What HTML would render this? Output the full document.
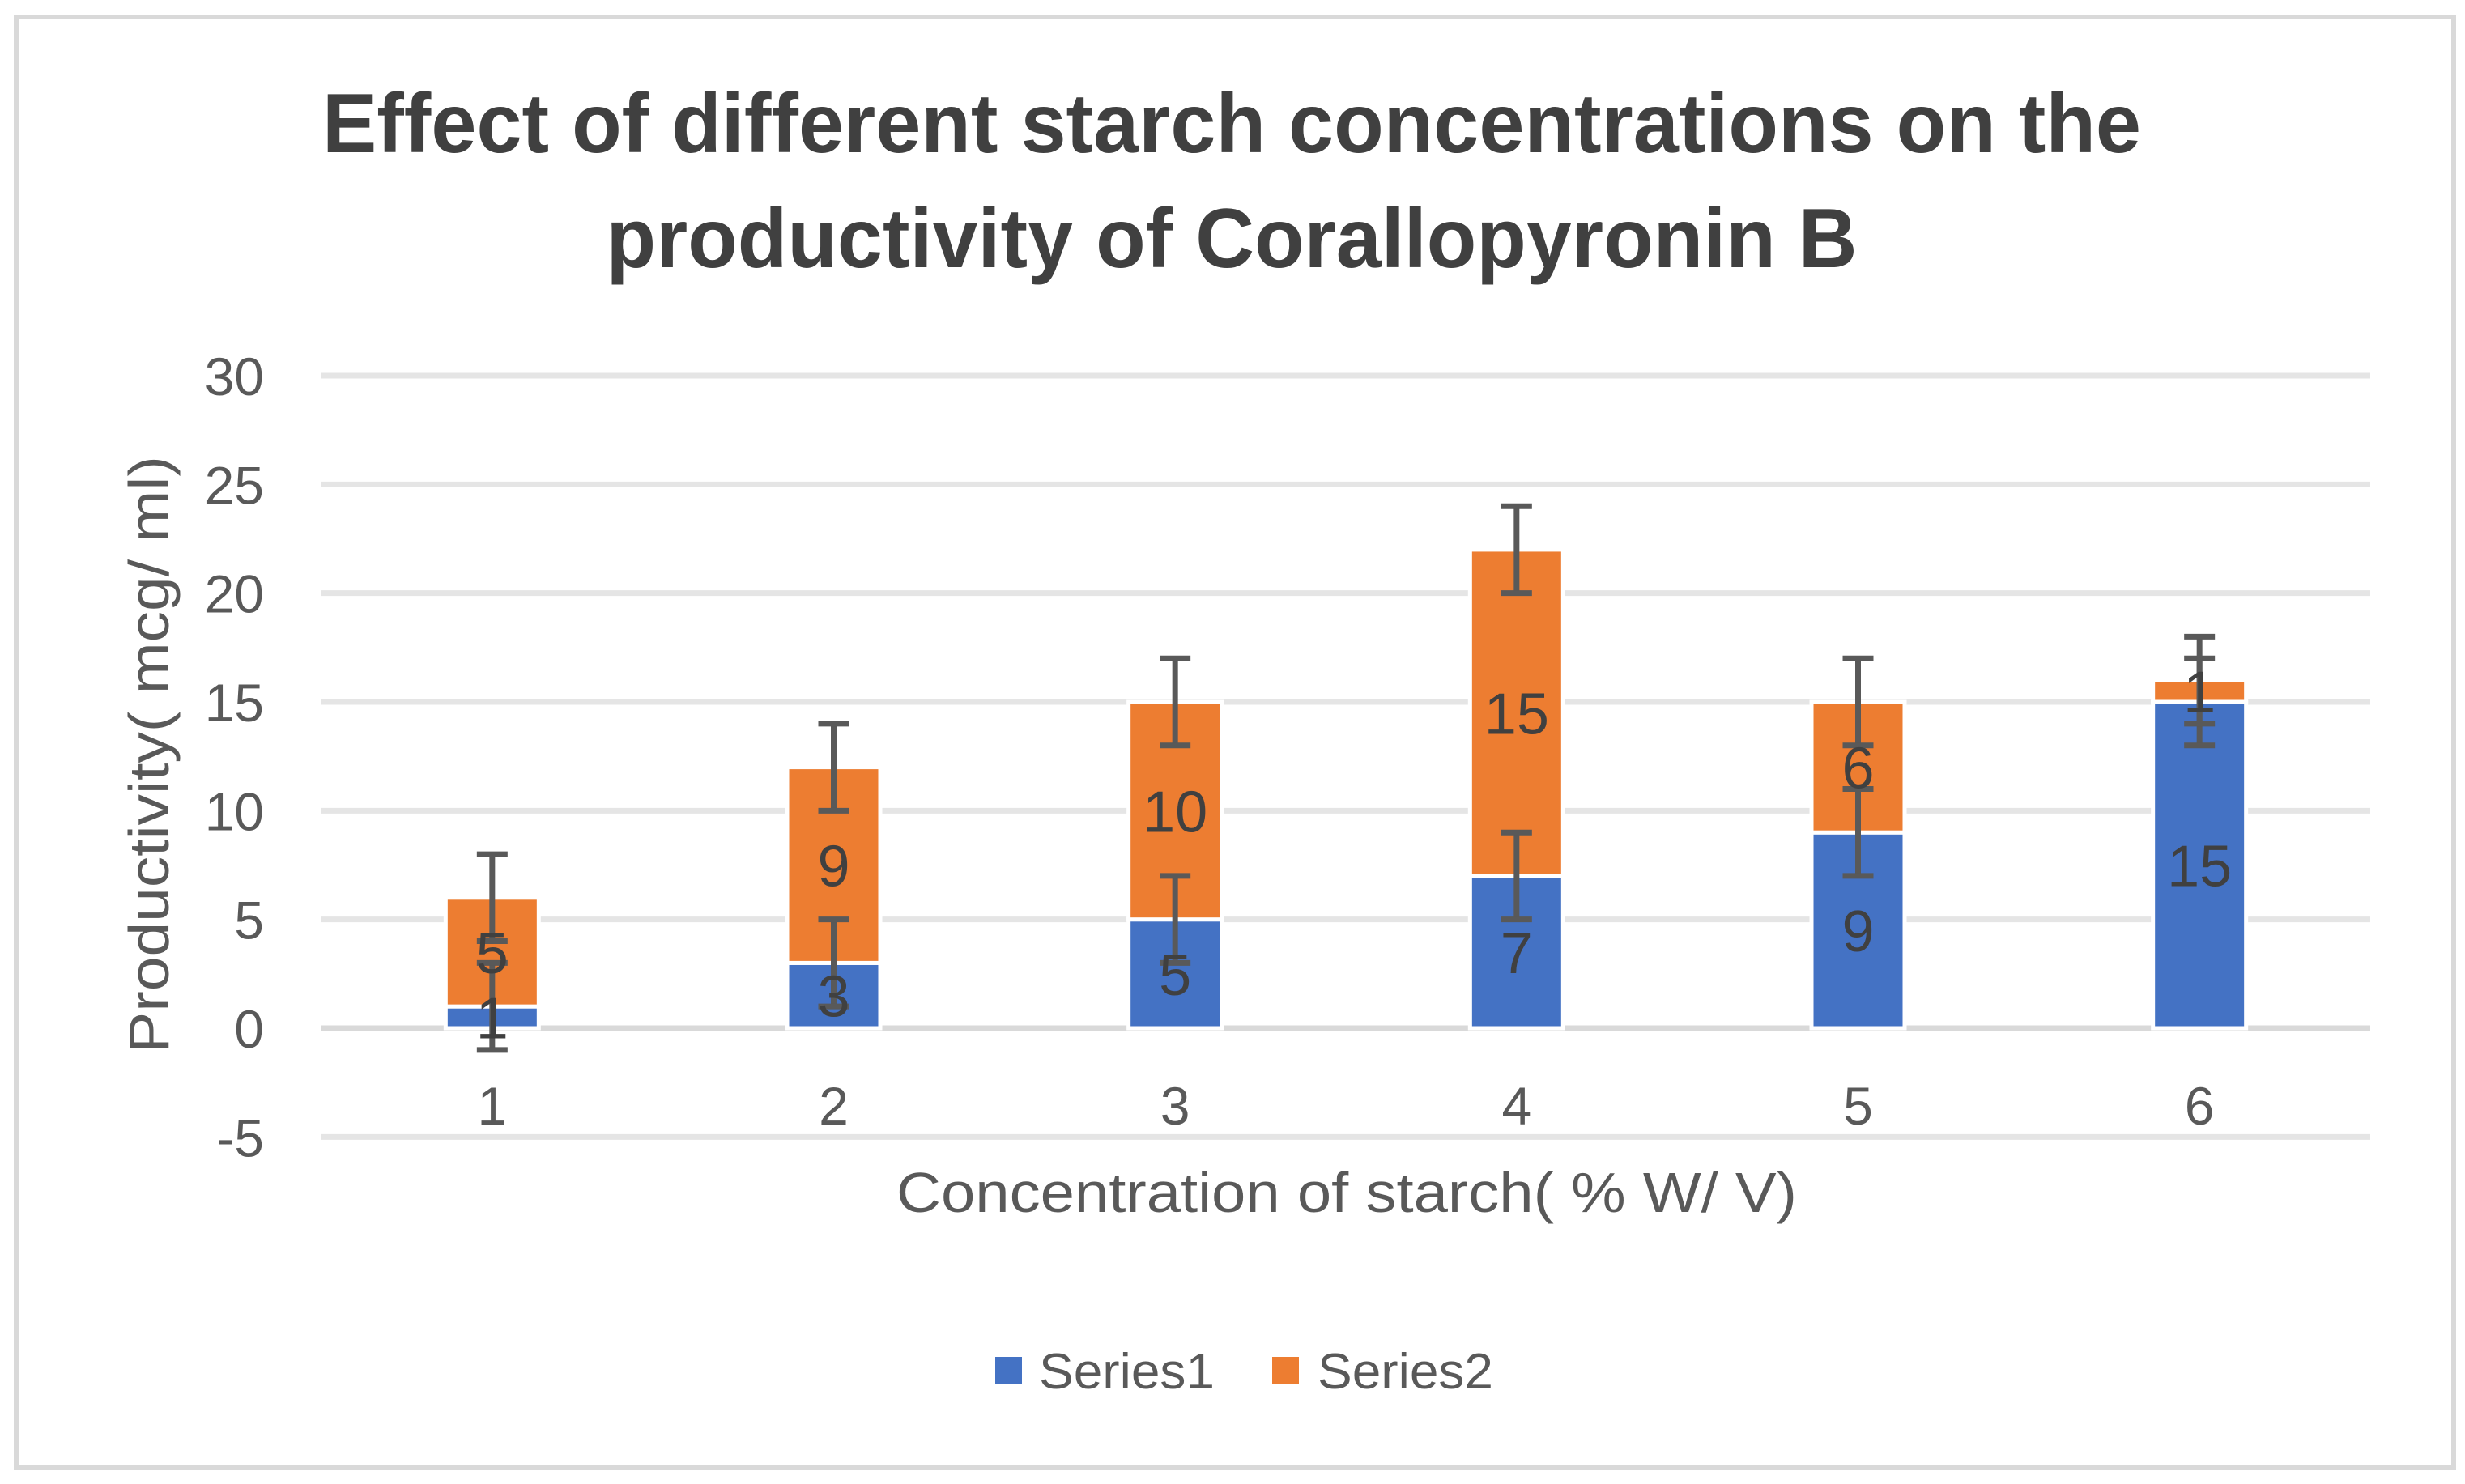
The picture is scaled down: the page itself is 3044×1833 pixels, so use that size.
<!DOCTYPE html>
<html><head><meta charset="utf-8"><style>
html,body{margin:0;padding:0;background:#fff;}
svg{display:block;font-family:"Liberation Sans",sans-serif;}
</style></head><body>
<svg id="chart" width="3044" height="1833" viewBox="0 0 3044 1833">
<rect x="20" y="21" width="3010" height="1792" fill="#fff" stroke="#d9d9d9" stroke-width="6"/>
<text x="1521" y="188" text-anchor="middle" font-size="104" font-weight="bold" fill="#404040" textLength="2246" lengthAdjust="spacingAndGlyphs">Effect of different starch concentrations on the</text>
<text x="1521" y="330" text-anchor="middle" font-size="104" font-weight="bold" fill="#404040" textLength="1545" lengthAdjust="spacingAndGlyphs">productivity of Corallopyronin B</text>
<g id="grid"></g>
<g id="yticks"></g>
<g id="xticks"></g>
<g id="bars"></g>
<g id="errs"></g>
<g id="labels"></g>
<text transform="translate(208,932) rotate(-90)" text-anchor="middle" font-size="70" fill="#595959" textLength="738" lengthAdjust="spacingAndGlyphs">Productivity( mcg/ ml)</text>
<text x="1663" y="1497" text-anchor="middle" font-size="70" fill="#595959" textLength="1112" lengthAdjust="spacingAndGlyphs">Concentration of starch( % W/ V)</text>
<g>
<rect x="1229" y="1676" width="33" height="34" fill="#4472c4"/>
<text x="1283" y="1715" font-size="62" fill="#595959" textLength="217" lengthAdjust="spacingAndGlyphs">Series1</text>
<rect x="1571" y="1676" width="33" height="34" fill="#ed7d31"/>
<text x="1627" y="1715" font-size="62" fill="#595959" textLength="217" lengthAdjust="spacingAndGlyphs">Series2</text>
</g>
</svg>
<script>
const categories = ["1","2","3","4","5","6"];
const series1 = [1,3,5,7,9,15];
const series2 = [5,9,10,15,6,1];
const err1 = [2,2,2,2,2,2];
const err2 = [2,2,2,2,2,2];
const yTicks = [-5,0,5,10,15,20,25,30];

const NS="http://www.w3.org/2000/svg";
const plotL=397, plotR=2927, yZero=1270, yTop=464, yMaxV=30;
const yScale=v=>yZero-(v/yMaxV)*(yZero-yTop);
const band=(plotR-plotL)/categories.length;
const xC=i=>plotL+band*(i+0.5);
const barW=115;
function mk(tag,attrs,parent){const e=document.createElementNS(NS,tag);for(const k in attrs)e.setAttribute(k,attrs[k]);parent.appendChild(e);return e;}
const grid=document.getElementById('grid'),yt=document.getElementById('yticks'),xt=document.getElementById('xticks');
yTicks.forEach(v=>{
  const y=yScale(v);
  const l=mk('line',{x1:plotL,x2:plotR,y1:y,y2:y,stroke:v===0?'#d9d9d9':'#e5e5e5','stroke-width':7},grid);
  
  
  const t=mk('text',{x:326,y:y+24,'text-anchor':'end','font-size':66,fill:'#595959'},yt);
  t.textContent=v;
  
  
});
categories.forEach((c,i)=>{
  const t=mk('text',{x:xC(i),y:1389,'text-anchor':'middle','font-size':66,fill:'#595959'},xt);
  t.textContent=c;
  
  
});
const bars=document.getElementById('bars'),errs=document.getElementById('errs'),labs=document.getElementById('labels');
categories.forEach((c,i)=>{
  const x=xC(i)-barW/2;
  const b0=0,b1=series1[i],b2=series1[i]+series2[i];
  const r1=mk('rect',{x:x,y:yScale(b1),width:barW,height:yScale(b0)-yScale(b1),fill:'#4472c4',stroke:'#fff','stroke-width':5},bars);
  
  
  const r2=mk('rect',{x:x,y:yScale(b2),width:barW,height:yScale(b1)-yScale(b2),fill:'#ed7d31',stroke:'#fff','stroke-width':5},bars);
  
  
  [[b1,err1[i]],[b2,err2[i]]].forEach(([v,e],k)=>{
    const g=mk('g',{stroke:'#595959','stroke-width':7},errs);
    
    
    const cx=xC(i);
    mk('line',{x1:cx,x2:cx,y1:yScale(v-e),y2:yScale(v+e)},g);
    mk('line',{x1:cx-19,x2:cx+19,y1:yScale(v-e),y2:yScale(v-e)},g);
    mk('line',{x1:cx-19,x2:cx+19,y1:yScale(v+e),y2:yScale(v+e)},g);
  });
  [[b0,b1,series1[i]],[b1,b2,series2[i]]].forEach(([a,bb,val],k)=>{
    const t=mk('text',{x:xC(i),y:yScale((a+bb)/2)+26,'text-anchor':'middle','font-size':72,fill:'#404040'},labs);
    t.textContent=val;
    
    
  });
});
</script>
</body></html>
